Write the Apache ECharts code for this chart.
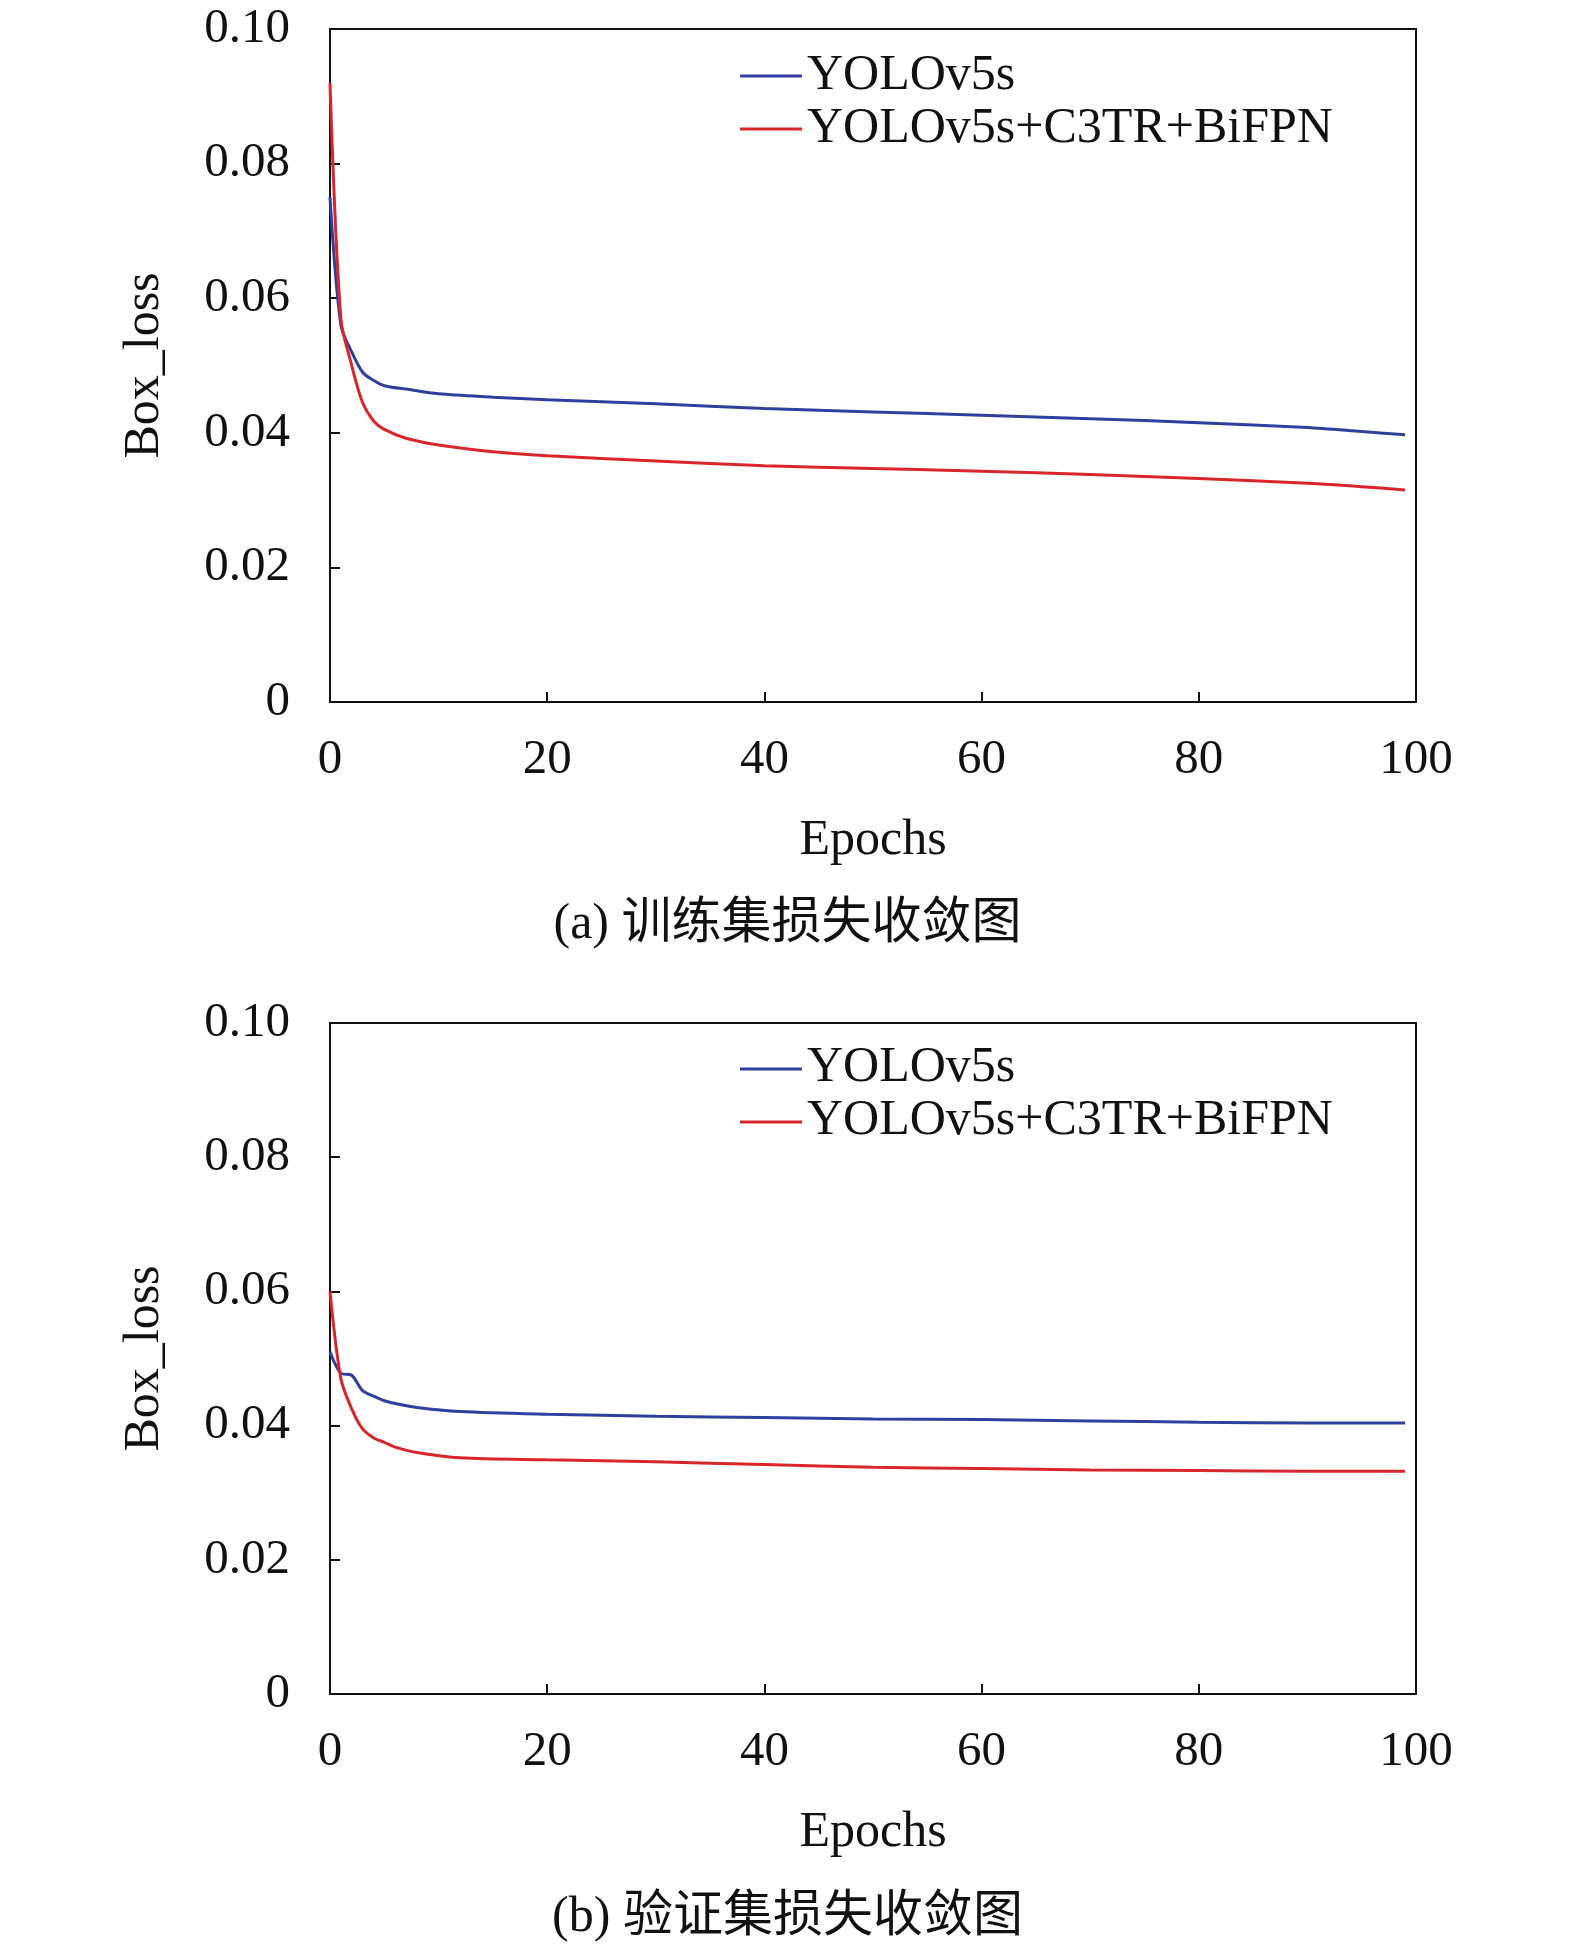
<!DOCTYPE html>
<html><head><meta charset="utf-8">
<script src="https://cdn.jsdelivr.net/npm/echarts@6/dist/echarts.min.js"></script>
<style>html,body{margin:0;background:#fff}#c{width:1575px;height:1944px}</style>
</head><body><div id="c"></div>
<script>
const trainEpochs = [0,1,2,3,4,5,7,10,15,20,30,40,50,60,70,80,90,95,99];
const trainBase   = [0.075,0.056,0.052,0.049,0.0478,0.047,0.0465,0.0458,0.0453,0.0449,0.0443,0.0436,0.0431,0.0426,0.0421,0.0415,0.0408,0.0402,0.0397];
const trainOurs   = [0.092,0.057,0.050,0.0445,0.0418,0.0405,0.0392,0.0382,0.0372,0.0366,0.0358,0.0351,0.0347,0.0343,0.0338,0.0332,0.0325,0.0320,0.0315];
const valEpochs = [0,1,2,3,4,5,6,8,12,20,30,40,50,60,70,80,90,99];
const valBase   = [0.051,0.0478,0.0475,0.0452,0.0444,0.0437,0.0433,0.0427,0.0421,0.0417,0.0414,0.0412,0.0410,0.0409,0.0407,0.0405,0.0404,0.0404];
const valOurs   = [0.060,0.047,0.0425,0.0395,0.0382,0.0375,0.0368,0.0360,0.0352,0.0349,0.0346,0.0342,0.0338,0.0336,0.0334,0.0333,0.0332,0.0332];
const xTicks = [0,20,40,60,80,100];
const yTicks = [0,0.02,0.04,0.06,0.08,0.10];
const names = ['YOLOv5s','YOLOv5s+C3TR+BiFPN'];
const captions = ['(a) 训练集损失收敛图','(b) 验证集损失收敛图'];
const F = '"Liberation Serif","Times New Roman",serif';
const pair = (xs, ys) => xs.map((x,i)=>[x,ys[i]]);
const grids = [{left:330,width:1086,top:29,height:673},{left:330,width:1086,top:1023,height:671}];
function xa(i){return {type:'value',gridIndex:i,min:0,max:100,interval:20,name:'Epochs',nameLocation:'middle',nameGap:114,
  nameTextStyle:{fontFamily:F,fontSize:50,color:'#111'},
  axisLine:{lineStyle:{color:'#111',width:2}},axisTick:{inside:true,length:10,lineStyle:{color:'#111',width:2}},
  axisLabel:{fontFamily:F,fontSize:49,color:'#111',margin:34},splitLine:{show:false}};}
function ya(i){return {type:'value',gridIndex:i,min:0,max:0.1,interval:0.02,name:'Box_loss',nameLocation:'middle',nameGap:160,
  nameTextStyle:{fontFamily:F,fontSize:50,color:'#111'},
  axisLine:{lineStyle:{color:'#111',width:2}},axisTick:{inside:true,length:10,lineStyle:{color:'#111',width:2}},
  axisLabel:{fontFamily:F,fontSize:49,color:'#111',margin:40,formatter:v=>v===0?'0':v.toFixed(2)},splitLine:{show:false}};}
function ln(name,d,i,c){return {name,type:'line',xAxisIndex:i,yAxisIndex:i,data:d,showSymbol:false,smooth:0.3,lineStyle:{color:c,width:3},itemStyle:{color:c}};}
const chart = echarts.init(document.getElementById('c'));
chart.setOption({
  animation:false,
  grid: grids.map(g=>Object.assign({show:true,borderColor:'#111',borderWidth:2,backgroundColor:'transparent'},g)),
  xAxis:[xa(0),xa(1)], yAxis:[ya(0),ya(1)],
  legend:[
    {data:names,left:735,top:46,orient:'vertical',itemGap:3,itemWidth:62,itemHeight:3,icon:'rect',textStyle:{fontFamily:F,fontSize:50,color:'#111'}},
  ],
  title: captions.map((t,i)=>({text:t,left:'center',top:i===0?900:1893,padding:0,textStyle:{fontFamily:'"Liberation Serif","Noto Sans CJK SC",serif',fontSize:50,fontWeight:'normal',color:'#111'}})),
  graphic:[
    {type:'line',shape:{x1:740,y1:1069,x2:802,y2:1069},style:{stroke:'#2e3f9e',lineWidth:3}},
    {type:'text',left:807,top:1043,style:{text:names[0],font:'50px '+F,fill:'#111'}},
    {type:'line',shape:{x1:740,y1:1122,x2:802,y2:1122},style:{stroke:'#d9262b',lineWidth:3}},
    {type:'text',left:807,top:1096,style:{text:names[1],font:'50px '+F,fill:'#111'}}
  ],
  series:[
    ln(names[0],pair(trainEpochs,trainBase),0,'#2e3f9e'),
    ln(names[1],pair(trainEpochs,trainOurs),0,'#d9262b'),
    ln('v0',pair(valEpochs,valBase),1,'#2e3f9e'),
    ln('v1',pair(valEpochs,valOurs),1,'#d9262b')
  ]
});
</script></body></html>
